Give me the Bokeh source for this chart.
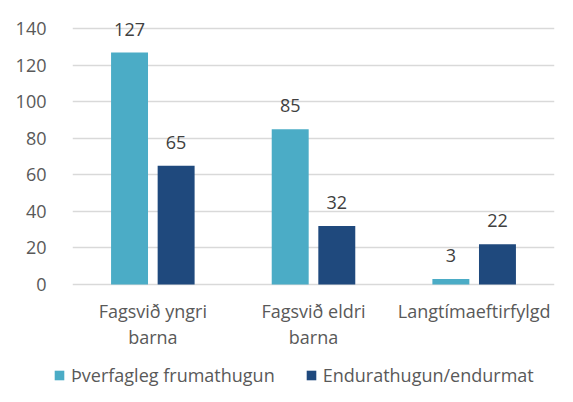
from bokeh.plotting import figure
from bokeh.models import ColumnDataSource, LabelSet, Legend, LegendItem, FactorRange, Range1d, FixedTicker
from bokeh.core.properties import value
from bokeh.transform import dodge
from bokeh.embed import file_html
from bokeh.resources import INLINE

categories = ["Fagsvið yngri barna", "Fagsvið eldri barna", "Langtímaeftirfylgd"]
cat_line1 = ["Fagsvið yngri", "Fagsvið eldri", "Langtímaeftirfylgd"]
cat_line2 = ["barna", "barna", ""]
frumathugun = [127, 85, 3]
endurathugun = [65, 32, 22]
series_names = ["Þverfagleg frumathugun", "Endurathugun/endurmat"]
y_ticks = [0, 20, 40, 60, 80, 100, 120, 140]

c1 = "#4BACC6"
c2 = "#1F497D"
txt = "#595959"
grid = "#D9D9D9"
font = "Open Sans"
fs = "18px"

# layout (pixels)
W, H1, H2 = 565, 355, 39
px_zero, px_top_tick = 284.0, 28.3
ppu = (px_zero - px_top_tick) / y_ticks[-1]
y_lo = -(H1 - px_zero) / ppu
y_hi = y_ticks[-1] + px_top_tick / ppu

src = ColumnDataSource(dict(cat=categories, a=frumathugun, b=endurathugun,
                            al=[str(v) for v in frumathugun], bl=[str(v) for v in endurathugun],
                            l1=cat_line1, l2=cat_line2, zero=[0] * len(categories)))

p = figure(x_range=FactorRange(*categories), y_range=Range1d(y_lo, y_hi),
           width=W, height=H1, output_backend="svg", toolbar_location=None,
           min_border_left=72, min_border_right=11, min_border_top=0, min_border_bottom=0)
p.outline_line_color = None

r1 = p.vbar(x=dodge("cat", -0.145, range=p.x_range), top="a", width=0.23, source=src,
            fill_color=c1, line_color=None)
r2 = p.vbar(x=dodge("cat", 0.145, range=p.x_range), top="b", width=0.23, source=src,
            fill_color=c2, line_color=None)

for col, lab, off in (("a", "al", -0.145), ("b", "bl", 0.145)):
    ls = LabelSet(x=dodge("cat", off, range=p.x_range), y=col, text=lab, source=src,
                  text_align="center", text_baseline="alphabetic", y_offset=17,
                  text_font=value(font), text_font_size=value(fs), text_color=value("#404040"))
    p.add_layout(ls)

for lab, off in (("l1", -33), ("l2", -59)):
    cl = LabelSet(x="cat", y="zero", text=lab, source=src, text_align="center",
                  text_baseline="alphabetic", y_offset=off,
                  text_font=value(font), text_font_size=value(fs), text_color=value(txt))
    p.add_layout(cl)

p.xgrid.grid_line_color = None
p.ygrid.grid_line_color = grid
p.ygrid.grid_line_width = 1.5
p.yaxis.ticker = FixedTicker(ticks=y_ticks)
p.yaxis.axis_line_color = None
p.yaxis.major_tick_line_color = None
p.yaxis.minor_tick_line_color = None
p.yaxis.major_label_standoff = 20
p.yaxis.major_label_text_font = font
p.yaxis.major_label_text_font_size = fs
p.yaxis.major_label_text_color = txt
p.xaxis.visible = False
p.x_range.range_padding = 0
p.x_range.group_padding = 0

# legend strip (proxy bars have zero width; only the legend shows)
p2 = figure(width=W, height=H2, output_backend="svg", toolbar_location=None,
            x_axis_type=None, y_axis_type=None,
            x_range=FactorRange(*categories), y_range=Range1d(-2, -1),
            min_border_left=0, min_border_right=0, min_border_top=0, min_border_bottom=0)
p2.outline_line_color = None
p2.grid.visible = False
g1 = p2.vbar(x="cat", top="a", width=0, source=src, fill_color=c1, line_color=None)
g2 = p2.vbar(x="cat", top="b", width=0, source=src, fill_color=c2, line_color=None)
legend = Legend(items=[LegendItem(label=series_names[0], renderers=[g1]),
                       LegendItem(label=series_names[1], renderers=[g2])],
                orientation="horizontal", location=(53, 7),
                label_text_font=font, label_text_font_size=fs, label_text_color=txt,
                glyph_width=12, glyph_height=12, spacing=30, label_standoff=6, label_height=24,
                border_line_color=None, background_fill_alpha=0, padding=0, margin=0)
p2.add_layout(legend)

open("out.html", "w").write(file_html([p, p2], INLINE))
